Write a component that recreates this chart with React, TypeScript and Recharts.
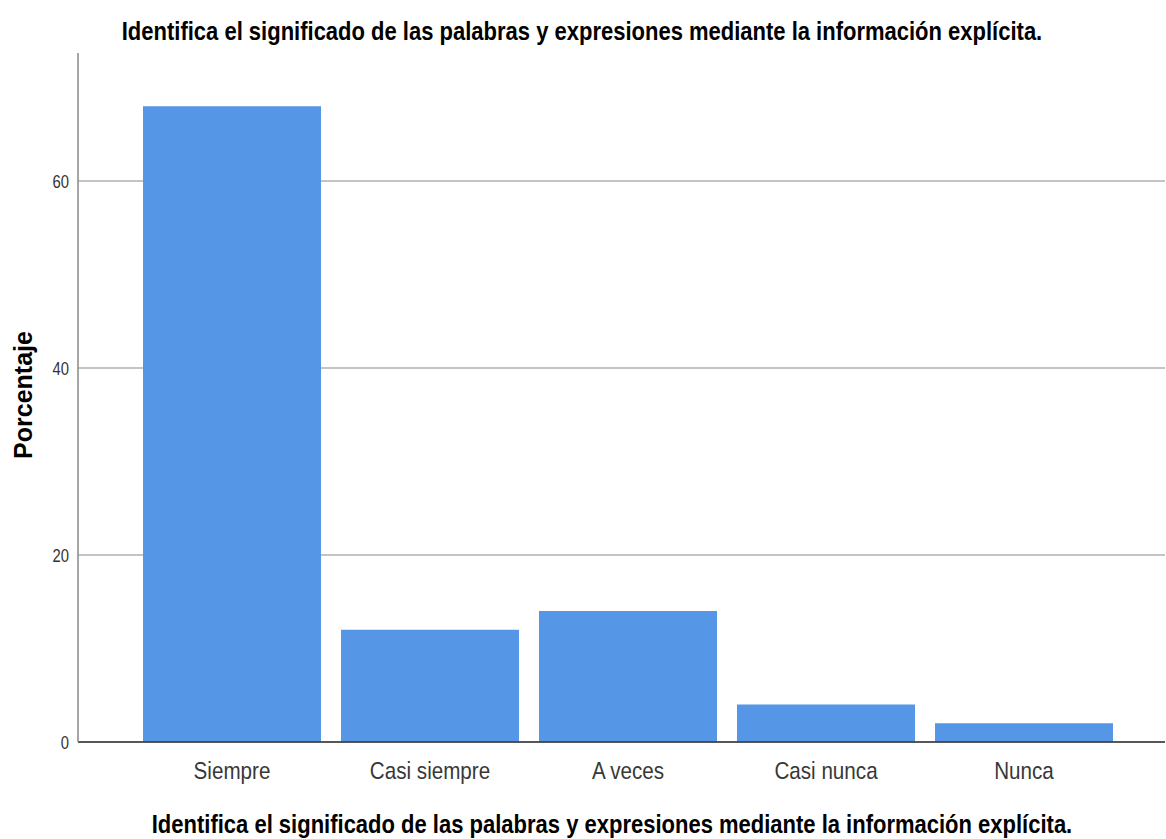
import React from "react";
import { BarChart, Bar, XAxis, YAxis, CartesianGrid } from "recharts";

const categories = ["Siempre", "Casi siempre", "A veces", "Casi nunca", "Nunca"];
const percentages = [68, 12, 14, 4, 2];
const yTicks = [0, 20, 40, 60];

const TITLE = "Identifica el significado de las palabras y expresiones mediante la información explícita.";
const FONT = "'Liberation Sans', Arial, sans-serif";

const data = categories.map((name, i) => ({ name, value: percentages[i] }));

// narrow-looking tick labels (the reference uses a condensed face)
const XTick = (props: any) => {
  const { x, y, payload } = props;
  return (
    <text
      transform={`translate(${x},${y + 31}) scale(0.86,1)`}
      textAnchor="middle"
      fill="#383838"
      fontSize={24}
      fontFamily={FONT}
    >
      {payload.value}
    </text>
  );
};

const YTick = (props: any) => {
  const { x, y, payload } = props;
  return (
    <text
      transform={`translate(${x},${y + 7}) scale(0.78,1)`}
      textAnchor="end"
      fill="#333"
      fontSize={19}
      fontFamily={FONT}
    >
      {payload.value}
    </text>
  );
};

const YLabel = () => (
  <text
    transform="translate(32,395) rotate(-90)"
    textAnchor="middle"
    fill="#000"
    fontSize={25}
    fontWeight="bold"
    fontFamily={FONT}
  >
    Porcentaje
  </text>
);

const titleStyle: React.CSSProperties = {
  position: "absolute",
  width: 1200,
  textAlign: "center",
  fontFamily: FONT,
  fontWeight: "bold",
  fontSize: 26,
  lineHeight: "26px",
  color: "#000",
  whiteSpace: "nowrap",
  transform: "scaleX(0.846)",
  transformOrigin: "center",
};

export default function App() {
  return (
    <div style={{ position: "absolute", left: 0, top: 0, width: 1166, height: 839, background: "#fff" }}>
      <BarChart
        width={1166}
        height={839}
        data={data}
        margin={{ top: 53, right: 1, bottom: 37, left: 0 }}
        barCategoryGap={10}
      >
        <CartesianGrid vertical={false} horizontalValues={yTicks} stroke="#c4c4c4" strokeWidth={2} />
        <XAxis
          dataKey="name"
          height={60}
          padding={{ left: 55, right: 42 }}
          stroke="#333"
          strokeWidth={1.5}
          tickLine={false}
          tickMargin={0}
          tick={<XTick />}
        />
        <YAxis
          width={78}
          domain={[0, 73.7]}
          ticks={yTicks}
          stroke="#888"
          strokeWidth={1.5}
          tickLine={false}
          tickMargin={3}
          tick={<YTick />}
          label={<YLabel />}
        />
        <Bar dataKey="value" fill="#5596e6" isAnimationActive={false} />
      </BarChart>
      <div style={{ ...titleStyle, left: 582 - 600, top: 18 }}>{TITLE}</div>
      <div style={{ ...titleStyle, left: 612 - 600, top: 811 }}>{TITLE}</div>
    </div>
  );
}
